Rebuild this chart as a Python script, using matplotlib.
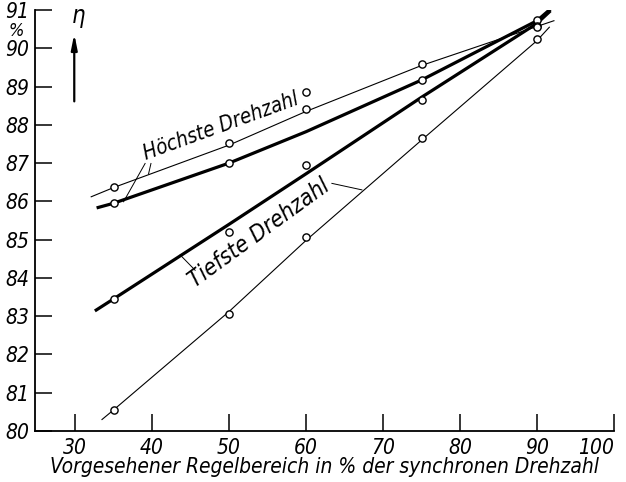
import matplotlib
matplotlib.use('Agg')
import matplotlib.pyplot as plt
from matplotlib import rcParams

rcParams['font.family'] = ['DejaVu Sans']
rcParams['font.style'] = 'italic'
rcParams['font.stretch'] = 'condensed'
rcParams['mathtext.default'] = 'it'

# measured points (open circles), regulating range in % of synchronous speed
x_pts = [35, 50, 60, 75, 90]
hoechste_thin_pts = [86.38, 87.53, 88.42, 89.58, 90.75]
hoechste_thick_pts = [85.96, 87.01, 88.85, 89.17, 90.58]
tiefste_thick_pts = [83.45, 85.19, 86.94, 88.65, 90.56]
tiefste_thin_pts = [80.56, 83.05, 85.08, 87.66, 90.24]

# drawn curves
hoechste_thin_x = [32.1, 35, 50, 60, 75, 92.2]
hoechste_thin_y = [86.12, 86.36, 87.47, 88.35, 89.55, 90.72]
hoechste_thick_x = [33.0, 35, 50, 60, 75, 90, 91.6]
hoechste_thick_y = [85.84, 85.95, 87.0, 87.82, 89.17, 90.72, 91.0]
tiefste_thick_x = [32.75, 35, 50, 60, 75, 90, 91.6]
tiefste_thick_y = [83.16, 83.45, 85.40, 86.72, 88.72, 90.65, 90.95]
tiefste_thin_x = [33.5, 35, 50, 60, 75, 90, 91.6]
tiefste_thin_y = [80.3, 80.55, 83.12, 84.98, 87.6, 90.2, 90.55]

xticks = [30, 40, 50, 60, 70, 80, 90, 100]
yticks = [80, 81, 82, 83, 84, 85, 86, 87, 88, 89, 90, 91]

fig = plt.figure(figsize=(6.26, 4.82), dpi=100)
ax = fig.add_axes([35/626., 51/482., 579/626., 421/482.])

ax.plot(hoechste_thin_x, hoechste_thin_y, color='k', lw=0.8)
ax.plot(hoechste_thick_x, hoechste_thick_y, color='k', lw=2.3)
ax.plot(tiefste_thick_x, tiefste_thick_y, color='k', lw=2.3)
ax.plot(tiefste_thin_x, tiefste_thin_y, color='k', lw=0.8)

for ys in [hoechste_thin_pts, hoechste_thick_pts, tiefste_thick_pts, tiefste_thin_pts]:
    ax.plot(x_pts, ys, 'o', ms=5.2, mfc='white', mec='k', mew=1.0, zorder=5)

ax.set_xlim(24.8, 100)
ax.set_ylim(80, 91)
ax.set_xticks(xticks)
ax.set_yticks(yticks)
ax.set_yticklabels([str(v) for v in yticks])
ax.tick_params(direction='in', length=12, width=1.1, labelsize=15, pad=4)
ax.tick_params(axis='x', pad=5)
# keep the last x label inside the figure
ax.get_xticklabels()[-1].set_ha('right')
ax.spines['top'].set_visible(False)
ax.spines['right'].set_visible(False)
ax.spines['left'].set_linewidth(1.3)
ax.spines['bottom'].set_linewidth(1.3)

ax.set_xlabel('Vorgesehener Regelbereich in % der synchronen Drehzahl',
              fontsize=15, labelpad=-1)

# percent sign below the top tick label
fig.text(16/626., 1 - 31/482., '%', fontsize=13, ha='center', va='center')

# eta arrow
ax.annotate('', xy=(29.9, 90.45), xytext=(29.9, 88.54),
            arrowprops=dict(arrowstyle='-|>,head_length=0.9,head_width=0.18',
                            color='k', lw=1.6))
ax.text(30.4, 90.78, r'$\eta$', fontsize=17, ha='center', va='center')

# curve labels with leader lines
ax.text(39.25, 87.08, 'Höchste Drehzahl', rotation=20, rotation_mode='anchor',
        ha='left', va='baseline', fontsize=14.8)
ax.plot([39.1, 36.3], [86.99, 85.99], color='k', lw=0.7)
ax.plot([39.86, 39.55], [86.99, 86.72], color='k', lw=0.7)

ax.text(45.6, 83.74, 'Tiefste Drehzahl', rotation=36, rotation_mode='anchor',
        ha='left', va='baseline', fontsize=16.5)
ax.plot([43.66, 45.6], [84.6, 84.2], color='k', lw=0.7)
ax.plot([63.36, 67.26], [86.47, 86.3], color='k', lw=0.7)

fig.savefig('out.png', dpi=100)
